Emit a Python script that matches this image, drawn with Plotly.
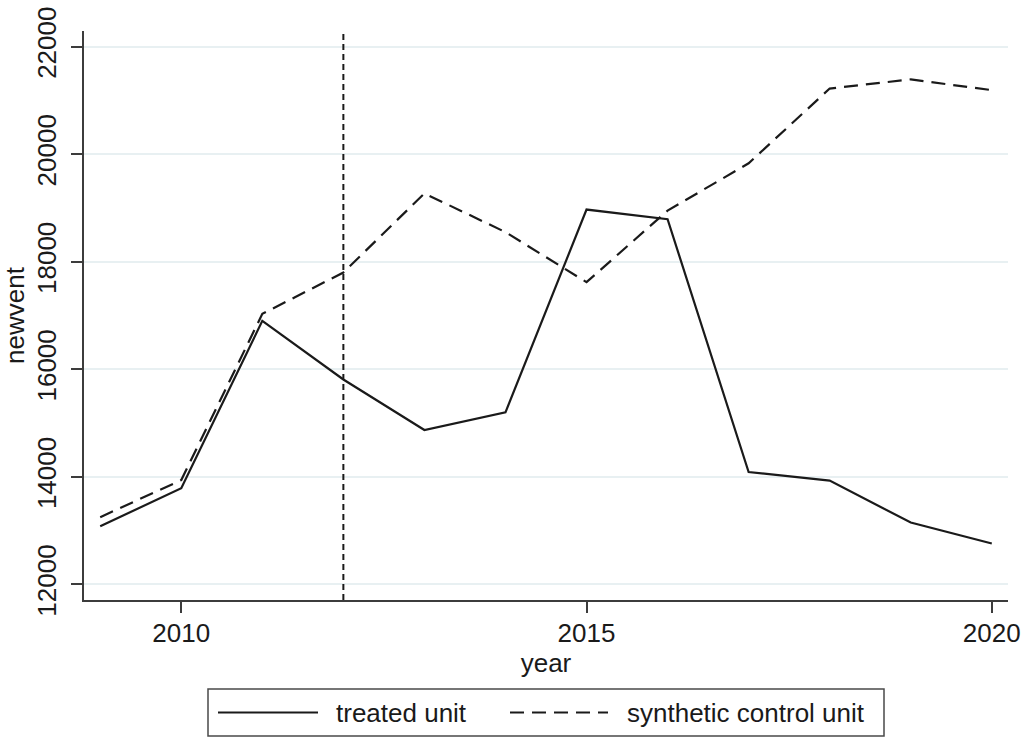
import plotly.graph_objects as go

# Annual new-venture counts: treated unit vs. its synthetic control
years = [2009, 2010, 2011, 2012, 2013, 2014, 2015, 2016, 2017, 2018, 2019, 2020]
treated_unit = [13080, 13790, 16900, 15810, 14870, 15200, 18970, 18790, 14090, 13930, 13150, 12760]
synthetic_control = [13250, 13940, 17030, 17800, 19270, 18550, 17620, 18950, 19830, 21220, 21390, 21190]
treatment_year = 2012

x_ticks = [2010, 2015, 2020]
y_ticks = [12000, 14000, 16000, 18000, 20000, 22000]

FONT = "Liberation Sans, Arial, Helvetica, sans-serif"
INK = "#1a1a1a"
AXIS = "#3c3c3c"
GRID = "#e8f0f2"

W, H = 1027, 738
L, R, T, B = 84, 19, 31, 138
PW, PH = W - L - R, H - T - B


def px(x):
    return (x - L) / PW


def py(y):
    return (H - B - y) / PH


fig = go.Figure()

fig.add_trace(go.Scatter(
    x=years, y=treated_unit, mode="lines", name="treated unit",
    line=dict(color=INK, width=2.2), showlegend=False,
))
fig.add_trace(go.Scatter(
    x=years, y=synthetic_control, mode="lines", name="synthetic control unit",
    line=dict(color=INK, width=2.2, dash="14px,8px"), showlegend=False,
))

# treatment start marker
fig.add_shape(type="line", xref="x", yref="paper", x0=treatment_year, x1=treatment_year,
              y0=0, y1=1, line=dict(color=INK, width=2, dash="6px,4px"))

# legend box below the plot
fig.add_shape(type="rect", xref="paper", yref="paper",
              x0=px(208), x1=px(884), y0=py(736), y1=py(689),
              line=dict(color="#4a4a4a", width=1.5), fillcolor="white")
ly = py(712.5)
fig.add_shape(type="line", xref="paper", yref="paper", x0=px(218), x1=px(318), y0=ly, y1=ly,
              line=dict(color=INK, width=2.2))
fig.add_shape(type="line", xref="paper", yref="paper", x0=px(510), x1=px(608), y0=ly, y1=ly,
              line=dict(color=INK, width=2.2, dash="14px,8px"))
fig.add_annotation(xref="paper", yref="paper", x=px(334), y=ly, text="treated unit",
                   showarrow=False, xanchor="left", yanchor="middle",
                   font=dict(family=FONT, size=26, color=INK))
fig.add_annotation(xref="paper", yref="paper", x=px(625), y=ly, text="synthetic control unit",
                   showarrow=False, xanchor="left", yanchor="middle",
                   font=dict(family=FONT, size=26, color=INK))

fig.update_layout(
    width=W, height=H,
    margin=dict(l=L, r=R, t=T, b=B, pad=0, autoexpand=False),
    paper_bgcolor="white", plot_bgcolor="white",
    font=dict(family=FONT, size=26, color=INK),
    showlegend=False,
)
fig.update_xaxes(
    range=[2008.8, 2020.2], tickvals=x_ticks, ticktext=[str(v) for v in x_ticks],
    automargin=False, ticklabelstandoff=-2,
    showgrid=False, zeroline=False,
    showline=True, linecolor=AXIS, linewidth=1.5,
    ticks="outside", ticklen=11, tickwidth=1.5, tickcolor=AXIS,
    tickfont=dict(family=FONT, size=26, color=INK),
    title=dict(text="year", font=dict(family=FONT, size=26, color=INK), standoff=0),
)
fig.update_yaxes(
    range=[11710, 22290], tickvals=y_ticks, ticktext=[str(v) for v in y_ticks],
    tickangle=-90, automargin=False, ticklabelstandoff=5,
    showgrid=True, gridcolor=GRID, gridwidth=1.5, zeroline=False,
    showline=True, linecolor=AXIS, linewidth=1.5,
    ticks="outside", ticklen=11, tickwidth=1.5, tickcolor=AXIS,
    tickfont=dict(family=FONT, size=26, color=INK),
    title=dict(text="newvent", font=dict(family=FONT, size=26, color=INK), standoff=2),
)

fig.write_html("out.html")
